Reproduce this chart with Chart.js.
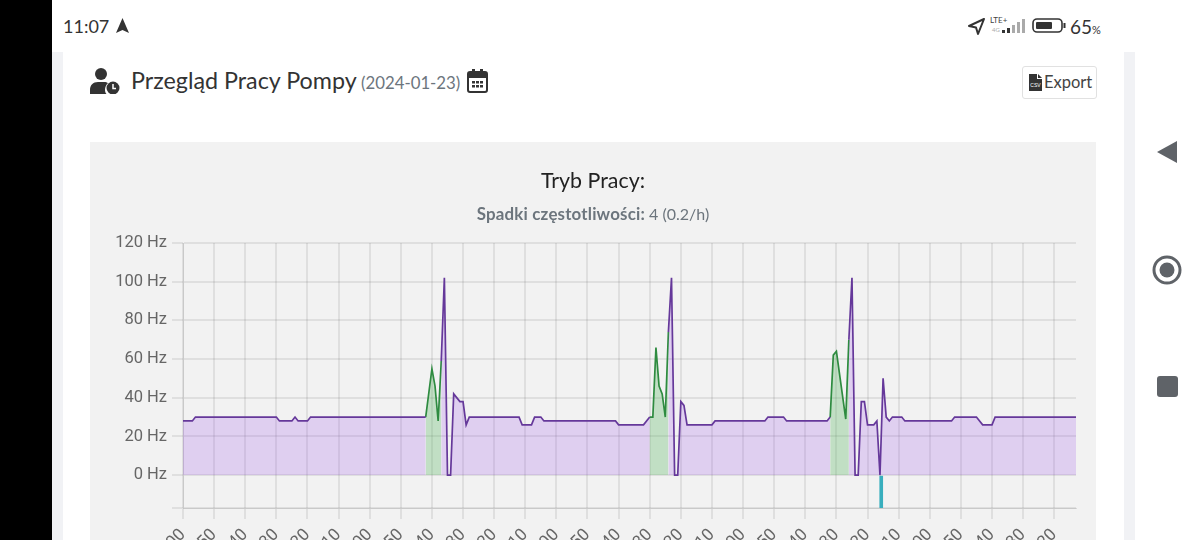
<!DOCTYPE html>
<html lang="pl">
<head>
<meta charset="utf-8">
<title>Przegląd Pracy Pompy</title>
<script src="https://cdn.jsdelivr.net/npm/chart.js@4"></script>
<style>
  html, body { margin: 0; height: 540px; overflow: hidden; background: #fff; font-family: Lato, "Noto Sans", sans-serif; color: #333; }
  .abs { position: absolute; white-space: nowrap; }
  #sideL { left: 0; top: 0; width: 52px; height: 540px; background: #000; }
  #shadeL { left: 52px; top: 52px; width: 11px; height: 488px; background: #f1f2f5; }
  #shadeR { left: 1124px; top: 52px; width: 11px; height: 488px; background: #f1f2f5; }
  #panel { left: 90px; top: 142px; width: 1006px; height: 398px; background: #f2f2f2; }
  #chart { position: absolute; left: 90px; top: 142px; }
  #title { left: 90px; width: 1006px; top: 167px; text-align: center; font-size: 21.4px; color: #222; }
  #sub { left: 90px; width: 1006px; top: 203px; text-align: center; font-size: 16px; color: #6c757d; }
  #sub b { font-size: 16.9px; letter-spacing: .18px; }
  #btn { left: 1022px; top: 66px; width: 73px; height: 31px; border: 1px solid #e1e1e1; border-radius: 3px; }
</style>
</head>
<body>
<div class="abs" id="sideL"></div>
<div class="abs" id="shadeL"></div>
<div class="abs" id="shadeR"></div>

<div class="abs" style="left:63px;top:15px;font-size:18px;color:#333">11:07</div>
<svg class="abs" style="left:115px;top:18px" width="15" height="16" viewBox="0 0 15 16"><path d="M7.5 0 14 15 7.5 12 1 15z" fill="#333"/></svg>

<svg class="abs" style="left:967px;top:17px" width="19" height="19" viewBox="0 0 19 19"><path d="M17 2 2 9l7 1.5L11 17z" fill="none" stroke="#333" stroke-width="2" stroke-linejoin="round"/></svg>
<div class="abs" style="left:990px;top:15px;font-size:8px;color:#444">LTE+</div>
<div class="abs" style="left:992px;top:26px;font-size:6px;color:#aaa">4G</div>
<svg class="abs" style="left:1001px;top:18px" width="25" height="16" viewBox="0 0 25 16">
  <rect x="1" y="12" width="3" height="3" fill="#333"/><rect x="6" y="10" width="3" height="5" fill="#333"/>
  <rect x="11" y="7" width="3" height="8" fill="#aaa"/><rect x="16" y="4" width="3" height="11" fill="#aaa"/><rect x="21" y="1" width="3" height="14" fill="#aaa"/>
</svg>
<svg class="abs" style="left:1032px;top:17px" width="34" height="18" viewBox="0 0 34 18">
  <rect x="1" y="2" width="29" height="13" rx="4" fill="none" stroke="#333" stroke-width="1.6"/>
  <rect x="4" y="5" width="16" height="7" rx="1" fill="#333"/><rect x="31.5" y="6" width="2" height="5" fill="#333"/>
</svg>
<div class="abs" style="left:1070px;top:15px;font-size:19px;color:#333">65<span style="font-size:11px">%</span></div>

<svg class="abs" style="left:90px;top:68px" width="31" height="26" viewBox="0 0 31 26">
  <circle cx="11" cy="6" r="6" fill="#333"/>
  <path d="M0 26v-4c0-5 3-8 8-8h6c2 0 3 .5 4 1-2 2-3 4-3 7 0 1.500.5 3 1.500 4z" fill="#333"/>
  <circle cx="23" cy="20" r="6.500" fill="#333"/><path d="M23 16v4.500h3" stroke="#fff" stroke-width="1.500" fill="none"/>
</svg>
<div class="abs" style="left:131px;top:66px;font-size:23.3px;color:#333">Przegląd Pracy Pompy</div>
<div class="abs" style="left:361px;top:72px;font-size:16.8px;color:#6c757d">(2024-01-23)</div>
<svg class="abs" style="left:467px;top:69px" width="21" height="24" viewBox="0 0 21 24">
  <rect x="1" y="3" width="19" height="20" rx="2" fill="none" stroke="#333" stroke-width="2"/>
  <rect x="1" y="3" width="19" height="6" fill="#333"/><rect x="5" y="0" width="3" height="5" fill="#333"/><rect x="13" y="0" width="3" height="5" fill="#333"/>
  <g fill="#333"><rect x="5" y="12" width="3" height="2.500"/><rect x="9" y="12" width="3" height="2.500"/><rect x="13" y="12" width="3" height="2.500"/><rect x="5" y="16" width="3" height="2.500"/><rect x="9" y="16" width="3" height="2.500"/><rect x="13" y="16" width="3" height="2.500"/></g>
</svg>
<div class="abs" id="btn"></div>
<svg class="abs" style="left:1029px;top:74px" width="13" height="17" viewBox="0 0 13 17"><path d="M0 0h8v5h5v12H0z" fill="#333"/><path d="M9 0l4 4H9z" fill="#333"/><text x="6.500" y="13" font-size="5" font-family="Liberation Sans" fill="#fff" text-anchor="middle">CSV</text></svg>
<div class="abs" style="left:1044px;top:72px;font-size:16.5px;color:#444">Export</div>

<div class="abs" id="panel"></div>
<canvas id="chart" width="1006" height="420"></canvas>
<div class="abs" id="title">Tryb Pracy:</div>
<div class="abs" id="sub"><b>Spadki częstotliwości:</b> 4 (0.2/h)</div>

<svg class="abs" style="left:1156px;top:140px" width="22" height="24" viewBox="0 0 22 24"><path d="M21 1v22L1 12z" fill="#5f6368"/></svg>
<svg class="abs" style="left:1152px;top:255px" width="30" height="30" viewBox="0 0 30 30"><circle cx="15" cy="15" r="13" fill="none" stroke="#5f6368" stroke-width="3"/><circle cx="15" cy="15" r="7.500" fill="#5f6368"/></svg>
<div class="abs" style="left:1157px;top:376px;width:21px;height:21px;background:#5f6368;border-radius:3px"></div>

<script>
// minutes from midnight, null splits the series where the other mode takes over
const pumpMinutes = [0, 15, 20, 150, 155, 175, 180, 185, 200, 205, 390, 400,
  415, 420, 425, 430, 435, 445, 450, 455, 460, 540, 545, 560, 565, 575, 580, 695, 700, 740, 750, 760,
  780, 785, 790, 795, 800, 805, 810, 850, 855, 935, 940, 965, 970, 1035, 1040, 1050,
  1070, 1075, 1080, 1085, 1090, 1095, 1100, 1110, 1115, 1120, 1125, 1130, 1135, 1140, 1155, 1160, 1235, 1240, 1275, 1285, 1300, 1305, 1435];
const pumpHz = [28, 28, 30, 30, 28, 28, 30, 28, 28, 30, 30, null,
  59, 102, 0, 0, 42, 38, 38, 26, 30, 30, 26, 26, 30, 30, 28, 28, 26, 26, 30, null,
  74, 102, 0, 0, 38, 36, 26, 26, 28, 28, 30, 30, 28, 28, 30, null,
  70, 102, 0, 0, 38, 38, 26, 26, 28, 0, 50, 30, 28, 30, 30, 28, 28, 30, 30, 26, 26, 30, 30];

const boostMinutes = [390, 400, 405, 410, 415, 600,
  750, 755, 760, 765, 770, 775, 780, 900,
  1040, 1045, 1050, 1065, 1070];
const boostHz = [30, 55, 46, 28, 59, null,
  30, 30, 66, 46, 42, 30, 74, null,
  30, 62, 64, 29, 70];

const dropMinutes = [1122];
const dropHz = [-17];

const yTicks = { min: -17, max: 120, step: 20 };
const xTicks = { max: 1435, step: 50 };

function points(xs, ys) {
  return xs.map((x, i) => ({ x, y: ys[i] }));
}

function hhmm(m) {
  const h = Math.floor(m / 60), mm = m % 60;
  return String(h).padStart(2, "0") + ":" + String(mm).padStart(2, "0");
}

new Chart(document.getElementById("chart"), {
  data: {
    datasets: [
      { type: "bar", label: "Spadek", data: points(dropMinutes, dropHz), backgroundColor: "#38aebd", barThickness: 3 },
      { type: "line", label: "Praca", data: points(pumpMinutes, pumpHz), borderColor: "#65389a", borderWidth: 1.7,
        backgroundColor: "rgba(150,70,235,.2)", fill: "origin", tension: 0, pointRadius: 0, spanGaps: false },
      { type: "line", label: "Tryb", data: points(boostMinutes, boostHz), borderColor: "#2e8b40", borderWidth: 1.7,
        backgroundColor: "rgba(70,175,80,.28)", fill: "origin", tension: 0, pointRadius: 0, spanGaps: false }
    ]
  },
  options: {
    responsive: false,
    animation: false,
    maintainAspectRatio: false,
    layout: { padding: { top: 101, right: 20, left: 0, bottom: 0 } },
    plugins: { legend: { display: false }, title: { display: false }, tooltip: { enabled: false } },
    scales: {
      x: {
        type: "linear",
        offset: false,
        min: 0,
        max: xTicks.max,
        afterFit: (s) => { s.height = 54; },
        grid: { offset: false, color: "rgba(0,0,0,.08)", lineWidth: 2, tickLength: 11 },
        ticks: {
          stepSize: xTicks.step,
          includeBounds: false,
          autoSkip: false,
          minRotation: 45,
          maxRotation: 45,
          padding: 6,
          color: "#666",
          font: { family: "Roboto", size: 17 },
          callback: (v) => hhmm(v)
        }
      },
      y: {
        min: yTicks.min,
        max: yTicks.max,
        afterFit: (s) => { s.width = 93; },
        grid: { color: "rgba(0,0,0,.08)", lineWidth: 2, tickLength: 11 },
        ticks: {
          stepSize: yTicks.step,
          padding: 5,
          color: "#666",
          font: { family: "Roboto", size: 16.5 },
          callback: (v) => (v < 0 ? "" : v + " Hz")
        }
      }
    }
  }
});
</script>
</body>
</html>
